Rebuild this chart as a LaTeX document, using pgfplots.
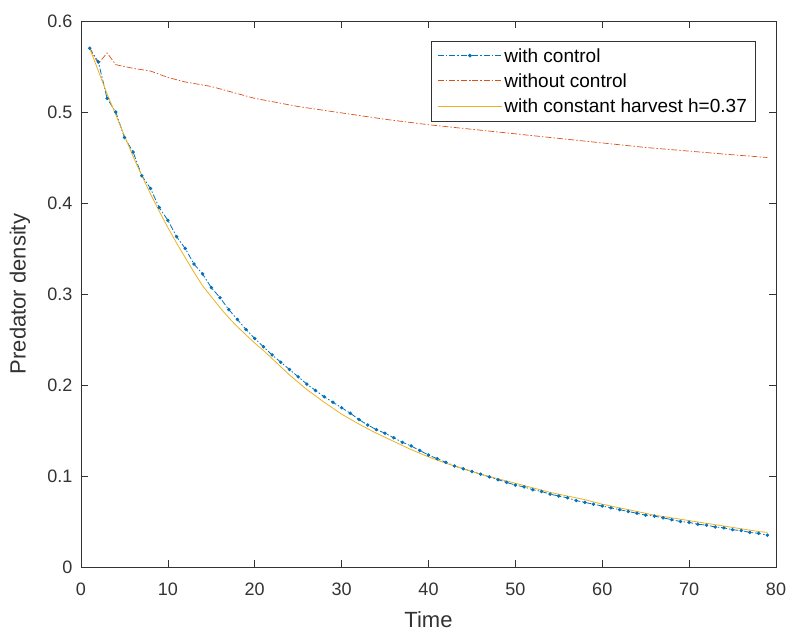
\documentclass[border=0pt]{standalone}
\usepackage{pgfplots}
\pgfplotsset{compat=1.18}
\usepackage{fontspec}
\setmainfont{Liberation Sans}
\usetikzlibrary{calc}
\definecolor{mblue}{rgb}{0,0.447,0.741}
\definecolor{mred}{rgb}{0.85,0.325,0.098}
\definecolor{myellow}{rgb}{0.929,0.694,0.125}
\begin{document}
\begin{tikzpicture}
\begin{axis}[
  scale only axis,
  width=695pt, height=546pt,
  xmin=0, xmax=80, ymin=0, ymax=0.6,
  xtick={0,10,...,80},
  ytick={0,0.1,0.2,0.3,0.4,0.5,0.6},
  yticklabels={0,0.1,0.2,0.3,0.4,0.5,0.6},
  tick pos=both, tick align=inside,
  major tick length=7pt,
  axis line style={black!80, line width=0.6pt},
  every tick/.style={black!80, line width=0.6pt},
  /pgf/number format/assume math mode=true,
  tick label style={font=\fontsize{18}{20}\selectfont, text=black!80},
  yticklabel style={xshift=-5pt},
  xticklabel style={yshift=-12pt},
  xlabel={Time}, ylabel={Predator density},
  label style={font=\fontsize{22}{24}\selectfont, text=black!80},
  x label style={at={(axis description cs:0.5,-0.11)}, anchor=base},
  y label style={at={(axis description cs:-0.088,0.5)}, anchor=center},
  legend style={at={(axis cs:77.6,0.578)}, anchor=north east,
    font=\fontsize{19}{22}\selectfont, draw=black!80, line width=0.6pt,
    inner xsep=6pt, inner ysep=5pt, row sep=6pt, cells={anchor=west}},
  legend cell align=left,
  legend image code/.code={\draw[mark repeat=2,mark phase=2,#1,line width=1pt] plot coordinates {(0pt,0.4pt) (32pt,0.4pt) (64pt,0.4pt)};},
]
\addplot[color=mblue, draw=mblue, line width=0.8pt, dash pattern=on 6pt off 2pt on 1.5pt off 2pt, mark=*, mark size=1.3pt, mark options={solid, draw=mblue, fill=mblue}] coordinates {
(1,0.570)(2,0.555)(3,0.515)(4,0.500)(5,0.472)(6,0.456)(7,0.430)(8,0.416)(9,0.395)(10,0.381)
(11,0.363)(12,0.350)(13,0.333)(14,0.322)(15,0.307)(16,0.296)(17,0.283)(18,0.272)(19,0.261)(20,0.251)
(21,0.242)(22,0.233)(23,0.225)(24,0.217)(25,0.209)(26,0.201)(27,0.194)(28,0.187)(29,0.181)(30,0.175)
(31,0.169)(32,0.162)(33,0.156)(34,0.151)(35,0.147)(36,0.142)(37,0.137)(38,0.133)(39,0.128)(40,0.123)
(41,0.119)(42,0.115)(43,0.111)(44,0.108)(45,0.105)(46,0.102)(47,0.099)(48,0.096)(49,0.093)(50,0.090)
(51,0.088)(52,0.085)(53,0.083)(54,0.080)(55,0.078)(56,0.076)(57,0.073)(58,0.071)(59,0.069)(60,0.067)
(61,0.065)(62,0.063)(63,0.061)(64,0.059)(65,0.057)(66,0.056)(67,0.054)(68,0.052)(69,0.050)(70,0.049)
(71,0.047)(72,0.046)(73,0.044)(74,0.043)(75,0.041)(76,0.040)(77,0.038)(78,0.037)(79,0.035)
};
\addlegendentry{with control}
\addplot[color=mred, draw=mred, line width=0.7pt, dash pattern=on 6pt off 2pt on 1.5pt off 2pt] coordinates {
(1,0.570)(2,0.553)(3,0.565)(4,0.552)(5,0.550)(6,0.548)(8,0.545)(10,0.538)(12,0.533)(15,0.528)
(20,0.515)(25,0.506)(30,0.499)(35,0.492)(40,0.486)(45,0.481)(50,0.476)(55,0.471)(60,0.466)
(65,0.461)(70,0.457)(75,0.453)(79,0.450)
};
\addlegendentry{without control}
\addplot[color=myellow, draw=myellow, line width=0.8pt] coordinates {
(1,0.570)(2,0.545)(3,0.520)(4,0.497)(5,0.474)(6,0.451)(7,0.430)(8,0.410)(9,0.391)(10,0.373)
(11,0.356)(12,0.340)(13,0.324)(14,0.309)(15,0.297)(16,0.285)(17,0.274)(18,0.264)(19,0.255)(20,0.246)
(21,0.238)(22,0.229)(24,0.211)(26,0.195)(28,0.181)(30,0.168)(32,0.157)(34,0.147)(36,0.138)(38,0.129)
(40,0.121)(42,0.114)(44,0.108)(46,0.102)(48,0.097)(50,0.092)(52,0.087)(54,0.082)(56,0.078)(58,0.074)
(60,0.069)(62,0.065)(64,0.061)(66,0.057)(68,0.054)(70,0.051)(72,0.048)(74,0.045)(76,0.042)(78,0.039)(79,0.038)
};
\addlegendentry{with constant harvest h=0.37}
\end{axis}
\pgfresetboundingbox
\path ($(current axis.south west)+(-81pt,-69pt)$) rectangle ($(current axis.north east)+(15pt,21pt)$);
\end{tikzpicture}
\end{document}
